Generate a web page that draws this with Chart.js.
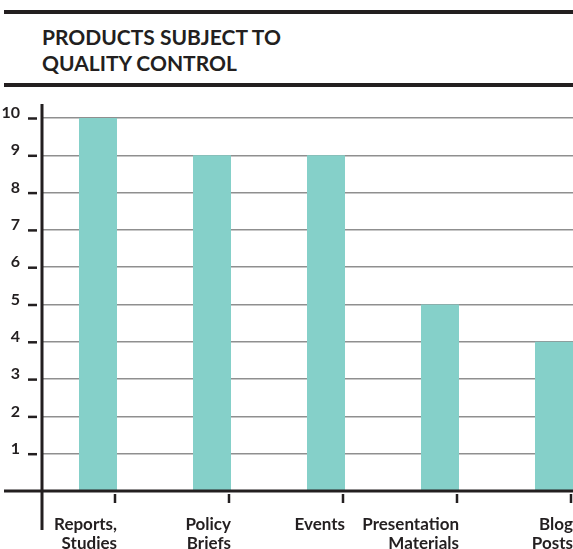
<!DOCTYPE html>
<html>
<head>
<meta charset="utf-8">
<script src="https://cdn.jsdelivr.net/npm/chart.js@4"></script>
<style>
  html, body { margin: 0; padding: 0; background: #fff; overflow: hidden; width: 573px; height: 549px; }
  .rule { position: absolute; left: 4px; width: 569px; height: 4px; background: #231f20; }
  #title { position: absolute; left: 42px; top: 24px; font: bold 21px Lato, sans-serif; line-height: 26px; color: #231f20; }
  #chart { position: absolute; left: 0; top: 0; }
</style>
</head>
<body>
<div class="rule" style="top:10px"></div>
<div id="title">PRODUCTS SUBJECT TO<br>QUALITY CONTROL</div>
<div class="rule" style="top:83px"></div>
<canvas id="chart" width="611" height="549"></canvas>
<script>
// dados do grafico
const categories = [['Reports,', 'Studies'], ['Policy', 'Briefs'], ['Events'], ['Presentation', 'Materials'], ['Blog', 'Posts']];
const values = [10, 9, 9, 5, 4];
const yMax = 10;

const ink = '#231f20';

// linhas extras: eixo y prolongado, base, tracinhos
const axisDecor = {
    id: 'axisDecor',
    afterDraw(chart) {
        const { ctx, chartArea, scales } = chart;
        const y = scales.y;
        const zeroY = y.getPixelForValue(0);
        ctx.save();
        ctx.strokeStyle = ink;
        ctx.lineCap = 'butt';

        // base
        ctx.lineWidth = 3;
        ctx.beginPath();
        ctx.moveTo(4, zeroY);
        ctx.lineTo(chart.width, zeroY);
        ctx.stroke();

        // eixo y
        ctx.beginPath();
        ctx.moveTo(chartArea.left + 1, chartArea.top - 14);
        ctx.lineTo(chartArea.left + 1, zeroY + 39);
        ctx.stroke();

        // tracinhos do eixo y
        ctx.lineWidth = 2.5;
        y.ticks.forEach(t => {
            if (t.value === 0) return;
            const py = y.getPixelForValue(t.value) + 0.5;
            ctx.beginPath();
            ctx.moveTo(28, py);
            ctx.lineTo(37, py);
            ctx.stroke();
        });

        // marcas do eixo x
        const meta = chart.getDatasetMeta(0);
        meta.data.forEach(bar => {
            const px = bar.x + bar.width / 2 - 2;
            ctx.beginPath();
            ctx.moveTo(px, zeroY + 3);
            ctx.lineTo(px, zeroY + 12);
            ctx.stroke();
        });
        ctx.restore();
    }
};

new Chart(document.getElementById('chart'), {
    type: 'bar',
    data: {
        labels: categories,
        datasets: [{
            data: values,
            backgroundColor: '#85d0c9',
            borderWidth: 0,
            categoryPercentage: 1,
            barPercentage: 0.3333
        }]
    },
    options: {
        responsive: false,
        animation: false,
        devicePixelRatio: 1,
        layout: { padding: { top: 118, left: 0, right: 0, bottom: 0 } },
        plugins: {
            legend: { display: false },
            tooltip: { enabled: false }
        },
        scales: {
            x: {
                offset: true,
                grid: { display: false },
                border: { display: false },
                afterFit(scale) { scale.height = 58; },
                ticks: {
                    align: 'end',
                    labelOffset: 19,
                    padding: 17,
                    maxRotation: 0,
                    autoSkip: false,
                    color: ink,
                    font: { family: 'Lato', size: 17, weight: 'bold', lineHeight: 1.06 }
                }
            },
            y: {
                min: 0,
                max: yMax,
                afterFit(scale) { scale.width = 41; },
                border: { display: false },
                grid: {
                    color: '#8f8f8f',
                    lineWidth: 1.5,
                    drawTicks: false
                },
                ticks: {
                    stepSize: 1,
                    padding: 21,
                    labelOffset: -5,
                    color: ink,
                    font: { family: 'Lato', size: 16, weight: 'bold' },
                    callback: v => v === 0 ? '' : v
                }
            }
        }
    },
    plugins: [axisDecor]
});
</script>
</body>
</html>
